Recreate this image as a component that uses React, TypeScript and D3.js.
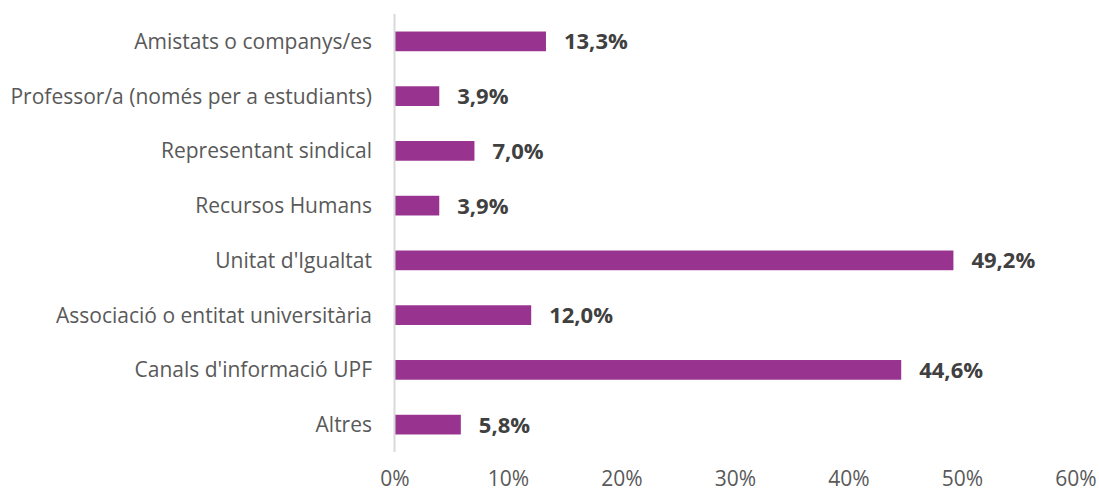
import React from "react";
import * as d3 from "d3";

const categories = [
  "Amistats o companys/es",
  "Professor/a (només per a estudiants)",
  "Representant sindical",
  "Recursos Humans",
  "Unitat d'Igualtat",
  "Associació o entitat universitària",
  "Canals d'informació UPF",
  "Altres",
];
const values = [13.3, 3.9, 7.0, 3.9, 49.2, 12.0, 44.6, 5.8];
const tickValues = [0, 10, 20, 30, 40, 50, 60];

const W = 1099;
const H = 490;
const left = 395;
const right = 1076;
const top = 14;
const bottom = 452;

export default function App() {
  const x = d3.scaleLinear().domain([0, 60]).range([left, right]);
  const y = d3
    .scaleBand<string>()
    .domain(categories)
    .range([top, bottom])
    .paddingInner(0.64)
    .paddingOuter(0.32);
  const fmt = (v: number) => v.toFixed(1).replace(".", ",") + "%";
  const font = "'Open Sans', sans-serif";
  return (
    <svg
      width={W}
      height={H}
      style={{ position: "absolute", left: 0, top: 0, display: "block" }}
      fontFamily={font}
    >
      <rect x={0} y={0} width={W} height={H} fill="#fff" />
      {categories.map((c, i) => (
        <g key={c}>
          <rect
            x={x(0)}
            y={y(c)!}
            width={x(values[i]) - x(0)}
            height={y.bandwidth()}
            fill="#993390"
          />
          <text
            x={372}
            y={y(c)! + y.bandwidth() / 2}
            dy="0.36em"
            textAnchor="end"
            fontSize={21}
            fill="#595959"
          >
            {c}
          </text>
          <text
            x={x(values[i]) + 18}
            y={y(c)! + y.bandwidth() / 2}
            dy="0.36em"
            fontSize={22}
            fontWeight="bold"
            fill="#404040"
          >
            {fmt(values[i])}
          </text>
        </g>
      ))}
      <line x1={x(0) - 0.5} x2={x(0) - 0.5} y1={top} y2={bottom} stroke="#d9d9d9" strokeWidth={2} />
      {tickValues.map((t) => (
        <text
          key={t}
          x={x(t)}
          y={486}
          textAnchor="middle"
          fontSize={21}
          fill="#595959"
        >
          {t + "%"}
        </text>
      ))}
    </svg>
  );
}
